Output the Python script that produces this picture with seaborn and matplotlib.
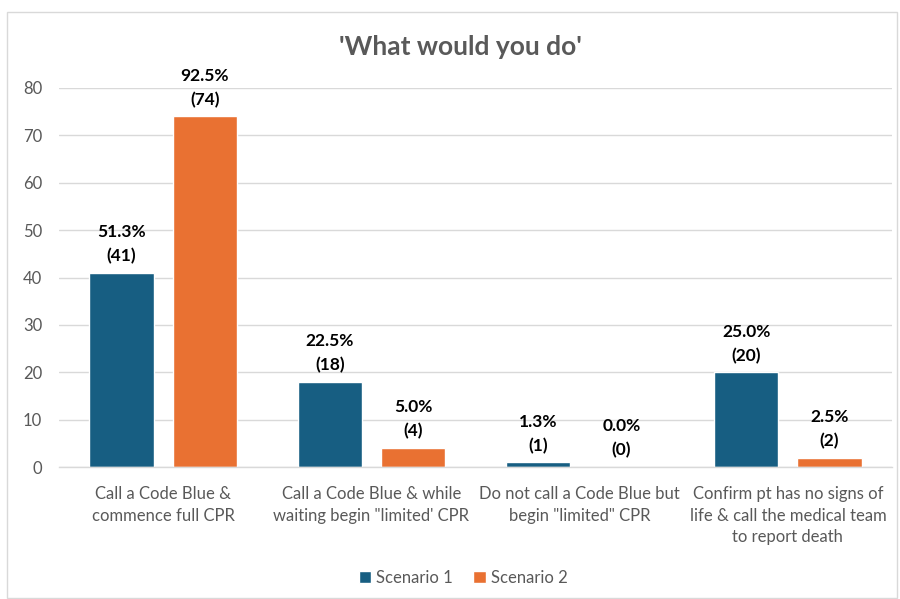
import matplotlib
matplotlib.use("Agg")
import matplotlib.pyplot as plt
from matplotlib.patches import Rectangle
import seaborn as sns
import pandas as pd

categories = ["Call a Code Blue &\ncommence full CPR",
              "Call a Code Blue & while\nwaiting begin \"limited' CPR",
              "Do not call a Code Blue but\nbegin \"limited\" CPR",
              "Confirm pt has no signs of\nlife & call the medical team\nto report death"]
series = ["Scenario 1", "Scenario 2"]
scenario1 = [41, 18, 1, 20]
scenario2 = [74, 4, 0, 2]
pct1 = ["51.3%", "22.5%", "1.3%", "25.0%"]
pct2 = ["92.5%", "5.0%", "0.0%", "2.5%"]
colors = ["#175E82", "#E97132"]

df = pd.DataFrame({
    "cat": categories * 2,
    "series": [series[0]] * 4 + [series[1]] * 4,
    "value": scenario1 + scenario2,
    "label": [f"{p}\n({v})" for p, v in zip(pct1, scenario1)] + [f"{p}\n({v})" for p, v in zip(pct2, scenario2)],
})

sns.set_theme(style="white")
plt.rcParams["font.family"] = ["Lato", "DejaVu Sans"]

fig = plt.figure(figsize=(9, 5.99), dpi=100)
ax = fig.add_axes([59/900, (599-467)/599, (892-59)/900, (467-88)/599])

sns.barplot(data=df, x="cat", y="value", hue="series", palette=colors,
            order=categories, hue_order=series, width=0.8, gap=0.23,
            saturation=1, ax=ax, legend=True)

ax.set_ylim(0, 80)
ax.set_yticks(range(0, 81, 10))
ax.yaxis.grid(True, color="#D9D9D9", linewidth=1)
ax.set_axisbelow(True)
for s in ["top", "right", "left"]:
    ax.spines[s].set_visible(False)
ax.spines["bottom"].set_color("#D9D9D9")
ax.spines["bottom"].set_linewidth(1)
ax.tick_params(axis="y", length=0, labelsize=12, labelcolor="#595959", pad=12)
ax.set_xlabel("")
ax.set_ylabel("")
ax.set_xticks(range(4))
ax.set_xticklabels(categories, fontsize=12, color="#595959", linespacing=1.4)
ax.tick_params(axis="x", length=0, pad=14)

for cont, s in zip(ax.containers, series):
    labels = df[df.series == s]["label"].tolist()
    ax.bar_label(cont, labels=labels, padding=6, fontsize=12.5, fontweight="bold",
                 color="#000000", linespacing=1.6)

fig.text(0.512, 0.921, "'What would you do'", ha="center", va="center",
         fontsize=19, fontweight="bold", color="#595959")

leg = ax.legend(loc="center", bbox_to_anchor=(463/900, 1 - 578/599),
                bbox_transform=fig.transFigure, ncol=2, frameon=False,
                fontsize=12, handlelength=0.75, handleheight=0.75,
                handletextpad=0.3, columnspacing=1.2)
for t in leg.get_texts():
    t.set_color("#595959")

fig.patches.append(Rectangle((7/900, 0.002), 890/900, (589-3)/599, transform=fig.transFigure,
                             fill=False, edgecolor="#D9D9D9", linewidth=1))

fig.savefig("out.png", dpi=100, facecolor="white")
